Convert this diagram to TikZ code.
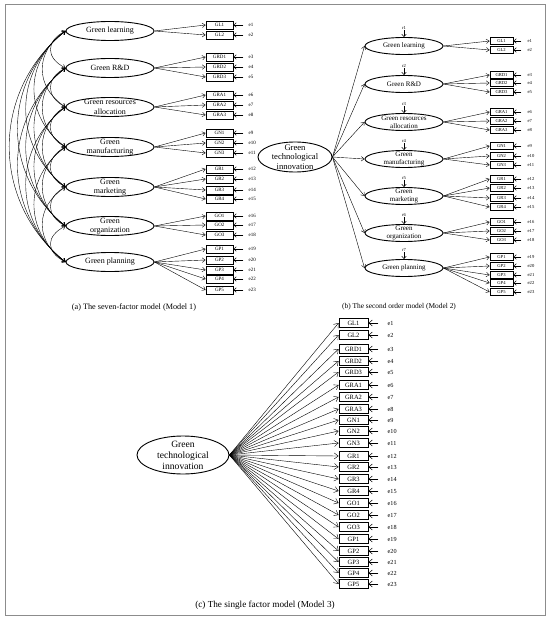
\documentclass[tikz,border=0pt]{standalone}
\usepackage{fontspec}
\setmainfont{Liberation Serif}
\usetikzlibrary{shapes.geometric,arrows.meta,positioning}

\begin{document}
\begin{tikzpicture}
        [x=1pt, y=-1pt,
        latent/.style={ellipse, draw, line width=0.9pt, inner xsep=0pt, inner ysep=-4pt, align=center},
        lata/.style={latent, minimum width=88pt, minimum height=19pt, font=\fontsize{8}{9.5}\selectfont},
        latb/.style={latent, minimum width=78pt, minimum height=17pt, font=\fontsize{7}{8.5}\selectfont},
        obs/.style={rectangle, draw, line width=0.9pt, inner sep=0pt},
        obsa/.style={obs, minimum width=27pt, minimum height=8pt, font=\fontsize{5}{6}\selectfont},
        obsb/.style={obs, minimum width=23pt, minimum height=7pt, font=\fontsize{4.6}{5.5}\selectfont},
        obsc/.style={obs, minimum width=29pt, minimum height=9pt, font=\fontsize{6.5}{7.5}\selectfont},
        lbl/.style={inner sep=0pt, font=\fontsize{5}{6}\selectfont},
        lblc/.style={inner sep=0pt, font=\fontsize{6.2}{7}\selectfont},
        load/.style={-{Straight Barb[length=3pt,width=4.5pt]}, line width=0.4pt},
        err/.style={-{Straight Barb[length=2.5pt,width=4.5pt]}, line width=0.5pt},
        cov/.style={{Straight Barb[length=3pt,width=4.5pt]}-{Straight Barb[length=3pt,width=4.5pt]}, line width=0.4pt},
        captext/.style={inner sep=0pt}]

        \useasboundingbox (0,0) rectangle (550,620);
        \draw[black!45, line width=1pt] (5,5) rectangle (545,615);

        % Model 1: seven correlated factors
        \node[lata] (fa1) at (110,31) {Green learning};
        \node[lata] (fa2) at (110,68) {Green R\&D};
        \node[lata] (fa3) at (110,107) {Green resources\\allocation};
        \node[lata] (fa4) at (110,147) {Green\\manufacturing};
        \node[lata] (fa5) at (110,187) {Green\\marketing};
        \node[lata] (fa6) at (110,226) {Green\\organization};
        \node[lata] (fa7) at (110,262) {Green planning};

        % Model 2: second order factor
        \node[latent, minimum width=74pt, minimum height=30pt, font=\fontsize{8.6}{9.6}\selectfont] (gtib) at (295,157) {Green\\technological\\innovation};
        \node[latb] (fb1) at (404,46) {Green learning};
        \node[latb] (fb2) at (404,84) {Green R\&D};
        \node[latb] (fb3) at (404,122) {Green resources\\allocation};
        \node[latb] (fb4) at (404,159) {Green\\manufacturing};
        \node[latb] (fb5) at (404,196) {Green\\marketing};
        \node[latb] (fb6) at (404,233) {Green\\organization};
        \node[latb] (fb7) at (404,268) {Green planning};

        % Model 3: single factor
        \node[latent, inner ysep=-5pt, minimum width=92pt, minimum height=38pt, font=\fontsize{9.6}{11}\selectfont] (gtic) at (183,455) {Green\\technological\\innovation};

        % Covariances between the first order factors
        \foreach \i in {1,...,6} {
            \pgfmathtruncatemacro\s{\i+1}
            \foreach \j in {\s,...,7} {
                \pgfmathsetmacro\bx{9+11*(\j-\i)}
                \pgfmathsetmacro\by{10*(\j-\i)}
                \draw[cov] (fa\i.west) .. controls +(-\bx,\by) and +(-\bx,-\by) .. (fa\j.west);
            }
        }

        % Second order paths and residuals
        \foreach \i in {1,...,7} {
            \node[lbl, font=\fontsize{4.6}{5.5}\selectfont, above=7pt of fb\i] (r\i) {r\i};
            \draw[err] (r\i) -- (fb\i);
            \draw[load] (gtib.east) -- (fb\i.west);
        }

        % Indicators with their error terms
        \foreach \n/\lab/\ya/\yb/\yc/\f in {
            1/GL1/25/41/323/1, 2/GL2/35/50/335/1,
            3/GRD1/57/75/349/2, 4/GRD2/67/83/361/2, 5/GRD3/77/92/372/2,
            6/GRA1/95/112/385/3, 7/GRA2/105/121/397/3, 8/GRA3/115/130/409/3,
            9/GN1/133/146/420/4, 10/GN2/143/156/431/4, 11/GN3/153/165/443/4,
            12/GR1/169/179/456/5, 13/GR2/179/188/467/5, 14/GR3/190/198/479/5, 15/GR4/199/207/491/5,
            16/GO1/216/222/503/6, 17/GO2/225/231/515/6, 18/GO3/235/240/527/6,
            19/GP1/249/257/539/7, 20/GP2/260/266/551/7, 21/GP3/270/275/562/7,
            22/GP4/279/283/573/7, 23/GP5/290/292/584/7} {
            \node[obsa] (xa\n) at (219.5,\ya) {\lab};
            \node[lbl, right=15pt of xa\n] (ea\n) {e\n};
            \draw[load] (fa\f.east) -- (xa\n.west);
            \draw[err, shorten <=5pt] (ea\n) -- (xa\n);

            \node[obsb] (xb\n) at (501.5,\yb) {\lab};
            \node[lbl, font=\fontsize{4.6}{5.5}\selectfont, right=14pt of xb\n] (eb\n) {e\n};
            \draw[load] (fb\f.east) -- (xb\n.west);
            \draw[err, shorten <=6pt] (eb\n) -- (xb\n);

            \node[obsc] (xc\n) at (353.5,\yc) {\lab};
            \node[lblc, right=19pt of xc\n] (ec\n) {e\n};
            \draw[load, -{Straight Barb[length=4pt,width=6pt]}] (gtic.east) -- (xc\n.west);
            \draw[err, -{Straight Barb[length=3.5pt,width=6pt]}, shorten <=9pt] (ec\n) -- (xc\n);
        }

        % Captions
        \node[captext, font=\fontsize{8.2}{9}\selectfont] (capa) at (134,307) {(a) The seven-factor model (Model 1)};
        \node[captext, font=\fontsize{7.4}{8.5}\selectfont] (capb) at (399,307) {(b) The second order model (Model 2)};
        \node[captext, font=\fontsize{9.2}{10}\selectfont] (capc) at (265,605) {(c) The single factor model (Model 3)};

    \end{tikzpicture}
\end{document}
